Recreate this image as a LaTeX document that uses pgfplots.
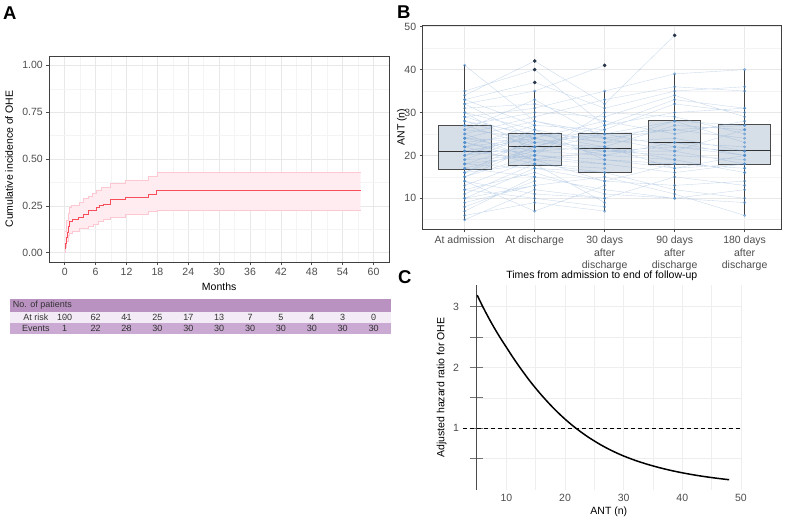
\documentclass[border=0pt]{standalone}
\usepackage{fontspec}
\setmainfont{Liberation Sans}
\usepackage{pgfplots}
\pgfplotsset{compat=1.18}
\usepackage{pgfplotstable}

\definecolor{kmred}{RGB}{248,78,90}
\definecolor{ciedge}{RGB}{253,200,210}
\definecolor{cifill}{RGB}{254,236,241}
\definecolor{hdr}{RGB}{186,146,194}
\definecolor{riskrow}{RGB}{243,236,246}
\definecolor{evrow}{RGB}{202,170,210}
\definecolor{boxfill}{RGB}{214,222,232}
\definecolor{boxline}{RGB}{75,75,75}
\definecolor{ptblue}{RGB}{74,140,205}
\definecolor{lnblue}{RGB}{125,165,210}
\definecolor{outl}{RGB}{42,54,72}
\definecolor{gridmaj}{RGB}{232,232,232}
\definecolor{gridmin}{RGB}{244,244,244}
\definecolor{ticktxt}{RGB}{77,77,77}

\newcommand{\txt}{\fontsize{10.5}{12.7}\selectfont}
\newcommand{\tbl}{\fontsize{9}{10}\selectfont}

% ANT per patient over follow-up (x = time point, rows of nan separate patients)
\pgfplotstableread{
t v
1 5
2 12
3 10
nan nan
1 6
2 9
3 7
nan nan
1 7
2 15
3 12
4 10
5 9
nan nan
1 8
2 14
nan nan
1 9
2 13
3 15
4 11
5 6
nan nan
1 10
2 17
3 14
4 13
5 14
nan nan
1 11
2 18
3 16
nan nan
1 12
2 16
3 11
4 10
5 12
nan nan
1 13
2 19
3 18
4 16
5 18
nan nan
1 14
2 7
3 13
nan nan
1 15
2 20
3 19
4 18
5 17
nan nan
1 15
2 22
3 21
4 22
5 20
nan nan
1 16
2 18
3 9
nan nan
1 16
2 24
3 20
4 19
5 16
nan nan
1 17
2 21
3 25
4 28
5 23
nan nan
1 17
2 15
nan nan
1 18
2 23
3 22
4 17
5 18
nan nan
1 18
2 17
3 16
4 12
5 10
nan nan
1 19
2 25
3 24
4 26
5 27
nan nan
1 19
2 20
3 18
nan nan
1 20
2 22
3 27
4 30
5 31
nan nan
1 20
2 26
3 23
4 24
5 21
nan nan
1 21
2 19
3 21
4 20
5 19
nan nan
1 21
2 24
3 28
4 25
5 28
nan nan
1 21
2 21
3 20
4 23
5 22
nan nan
1 22
2 27
3 26
4 32
5 30
nan nan
1 22
2 18
3 17
nan nan
1 23
2 25
3 22
4 27
5 26
nan nan
1 23
2 20
3 30
4 29
5 25
nan nan
1 24
2 28
3 24
nan nan
1 24
2 23
3 25
4 22
5 21
nan nan
1 25
2 29
3 33
4 36
5 35
nan nan
1 25
2 19
3 14
4 18
5 17
nan nan
1 26
2 24
3 21
4 21
5 18
nan nan
1 27
2 30
3 29
4 34
5 29
nan nan
1 27
2 22
3 26
nan nan
1 28
2 25
3 23
4 28
5 27
nan nan
1 29
2 31
3 35
4 39
5 40
nan nan
1 30
2 26
3 19
4 17
5 20
nan nan
1 30
2 21
3 22
4 19
5 16
nan nan
1 31
2 32
3 28
nan nan
1 32
2 35
3 41
nan nan
1 32
2 24
3 20
4 23
5 20
nan nan
1 33
2 37
3 31
4 35
5 36
nan nan
1 34
2 42
3 32
4 48
nan nan
1 35
2 40
3 27
4 33
5 31
nan nan
1 41
2 28
3 25
4 26
5 24
nan nan
1 14
2 11
3 10
4 15
5 13
nan nan
1 12
2 10
3 8
nan nan
1 26
2 33
3 24
4 21
5 26
nan nan
1 18
2 20
nan nan
1 22
2 24
nan nan
1 28
2 23
nan nan
1 33
2 27
nan nan
1 10
2 13
nan nan
1 24
2 21
nan nan
1 20
2 25
nan nan
1 16
2 22
nan nan
1 29
2 24
nan nan
1 23
2 19
}\patients

% whiskers (lower whisker to upper whisker) per time point
\pgfplotstableread{
x y
1 5
1 41
nan nan
2 7
2 35
nan nan
3 7
3 35
nan nan
4 10
4 39
nan nan
5 6
5 40
}\whisk

% medians per time point
\pgfplotstableread{
x y
0.625 21
1.375 21
nan nan
1.625 22.2
2.375 22.2
nan nan
2.625 21.6
3.375 21.6
nan nan
3.625 23
4.375 23
nan nan
4.625 21.1
5.375 21.1
}\medians

% numbers at risk / events under the incidence curve
\pgfplotstableread{
m risk ev
0 100 1
6 62 22
12 41 28
18 25 30
24 17 30
30 13 30
36 7 30
42 5 30
48 4 30
54 3 30
60 0 30
}\risktab

\pgfplotsset{
  ggbase/.style={
    scale only axis, anchor=south west,
    axis line style={draw=black!75, line width=0.9pt},
    tick style={draw=black!70, line width=0.6pt},
    tick align=outside, major tick length=3pt, minor tick length=0pt,
    tick pos=left,
    grid=both,
    major grid style={draw=gridmaj, line width=0.6pt},
    minor grid style={draw=gridmin, line width=0.5pt},
    ticklabel style={font=\txt, text=ticktxt},
    label style={font=\txt, text=black},
    /pgf/number format/assume math mode=true,
  },
  boxst/.style={draw=boxline, fill=boxfill, line width=0.8pt},
}

\begin{document}
\begin{tikzpicture}[x=1pt,y=1pt]
\path[use as bounding box] (0,0) rectangle (787,523);
% lower-left corners of the plotting areas
\coordinate (posA) at (49.3,261);
\coordinate (posT) at (49.3,189);
\coordinate (posB) at (422.7,293.7);
\coordinate (posC) at (476,33);

% panel letters
\node[anchor=north west, inner sep=0pt, font=\fontsize{18.5}{19}\selectfont\bfseries] at (3,516) {A};
\node[anchor=north west, inner sep=0pt, font=\fontsize{18.5}{19}\selectfont\bfseries] at (397,517) {B};
\node[anchor=north west, inner sep=0pt, font=\fontsize{18.5}{19}\selectfont\bfseries] at (398,253) {C};

% ---------- A: cumulative incidence ----------
\begin{axis}[ggbase,
  at={(posA)}, width=339.7pt, height=206pt,
  xmin=-3, xmax=63, ymin=-0.05, ymax=1.05,
  xtick={0,6,...,60}, minor xtick={3,9,...,57},
  ytick={0,0.25,0.5,0.75,1}, minor ytick={0.125,0.375,0.625,0.875},
  yticklabels={0.00,0.25,0.50,0.75,1.00},
  xlabel={Months}, ylabel={Cumulative incidence of OHE},
  xlabel style={at={(axis description cs:0.5,-0.121)}, anchor=center},
  ylabel style={at={(axis description cs:-0.1186,0.5)}, anchor=center},
]
% 95% confidence band (upper limit forward, lower limit back)
\addplot[fill=cifill, draw=none] coordinates {
 (0,0.115)(0.4,0.115)(0.4,0.17)(0.65,0.17)(0.65,0.21)(0.9,0.21)(0.9,0.24)(1.3,0.24)
 (1.3,0.255)(2.9,0.255)(2.9,0.27)(3.6,0.27)(3.6,0.29)(4.5,0.29)(4.5,0.30)(5.3,0.30)
 (5.3,0.315)(6.2,0.315)(6.2,0.335)(7.1,0.335)(7.1,0.35)(8.8,0.35)(8.8,0.37)(11.7,0.37)
 (11.7,0.388)(16.2,0.388)(16.2,0.408)(17.9,0.408)(17.9,0.43)(57.5,0.43)
 (57.5,0.228)(17.9,0.228)(17.9,0.22)(16.2,0.22)(16.2,0.207)(11.7,0.207)(11.7,0.19)
 (8.8,0.19)(8.8,0.178)(7.5,0.178)(7.5,0.165)(6.6,0.165)(6.6,0.15)(5.5,0.15)(5.5,0.14)
 (4.5,0.14)(4.5,0.128)(2.9,0.128)(2.9,0.115)(1.4,0.115)(1.4,0.105)(0.9,0.105)(0.9,0.09)
 (0.65,0.09)(0.65,0.06)(0.4,0.06)(0.4,0.03)(0.2,0.03)(0.2,0.0)(0,0.0)} -- cycle;
\addplot[const plot, draw=ciedge, line width=0.7pt] coordinates {
 (0,0.115)(0.4,0.17)(0.65,0.21)(0.9,0.24)(1.3,0.255)(2.9,0.27)(3.6,0.29)(4.5,0.30)
 (5.3,0.315)(6.2,0.335)(7.1,0.35)(8.8,0.37)(11.7,0.388)(16.2,0.408)(17.9,0.43)(57.5,0.43)};
\addplot[const plot, draw=ciedge, line width=0.7pt] coordinates {
 (0,0.0)(0.2,0.03)(0.4,0.06)(0.65,0.09)(0.9,0.105)(1.4,0.115)(2.9,0.128)(4.5,0.14)
 (5.5,0.15)(6.6,0.165)(7.5,0.178)(8.8,0.19)(11.7,0.207)(16.2,0.22)(17.9,0.228)(57.5,0.228)};
\addplot[const plot, draw=kmred, line width=0.8pt] coordinates {
 (0,0.02)(0.15,0.05)(0.4,0.08)(0.6,0.11)(0.8,0.14)(1.0,0.165)(1.5,0.178)(2.6,0.19)
 (3.6,0.205)(4.5,0.225)(6.2,0.24)(6.8,0.25)(7.5,0.26)(8.8,0.283)(11.7,0.293)(16.2,0.31)
 (17.9,0.33)(57.5,0.33)};
\end{axis}

% ---------- A: risk table ----------
\begin{axis}[scale only axis, anchor=south west, hide axis, clip=false,
  at={(posT)}, width=339.7pt, height=35pt,
  xmin=-3, xmax=63, ymin=0, ymax=35]
\fill[evrow] (axis cs:-10.65,0) rectangle (axis cs:63.3,11);
\fill[riskrow] (axis cs:-10.65,11) rectangle (axis cs:63.3,22);
\fill[hdr] (axis cs:-10.65,22) rectangle (axis cs:63.3,35);
\node[anchor=west, font=\tbl, text=black!80, inner sep=0pt] at (axis cs:-10.1,28.5) {No. of patients};
\node[anchor=center, font=\tbl, text=black!80, inner sep=0pt] at (axis cs:-5.6,16.5) {At risk};
\node[anchor=center, font=\tbl, text=black!80, inner sep=0pt] at (axis cs:-5.6,5.5) {Events};
\addplot[only marks, mark=*, mark size=0.01pt, mark options={draw=none,fill=none},
  nodes near coords, point meta=explicit symbolic,
  every node near coord/.style={anchor=center, font=\tbl, text=black!80, inner sep=0pt}]
  table[x=m, y expr=16.5, meta=risk] \risktab;
\addplot[only marks, mark=*, mark size=0.01pt, mark options={draw=none,fill=none},
  nodes near coords, point meta=explicit symbolic,
  every node near coord/.style={anchor=center, font=\tbl, text=black!80, inner sep=0pt}]
  table[x=m, y expr=5.5, meta=ev] \risktab;
\end{axis}

% ---------- B: ANT over follow-up ----------
\begin{axis}[ggbase,
  at={(posB)}, width=358.3pt, height=204.3pt,
  xmin=0.4, xmax=5.52, ymin=2.77, ymax=50.4,
  xtick={1,2,3,4,5},
  xticklabels={At admission, At discharge, {30 days\\after\\discharge}, {90 days\\after\\discharge}, {180 days\\after\\discharge}},
  xticklabel style={align=center},
  ytick={10,20,...,50}, minor ytick={5,15,...,45},
  xlabel={Times from admission to end of follow-up}, ylabel={ANT (n)},
  xlabel style={at={(axis description cs:0.5,-0.2286)}, anchor=center},
  ylabel style={at={(axis description cs:-0.0578,0.5)}, anchor=center},
]
% whiskers, then boxes (quartiles) and medians
\addplot[draw=black!75, line width=0.9pt, unbounded coords=jump] table[x=x, y=y] \whisk;
\addplot[boxst] coordinates {(0.625,16.75)(1.375,16.75)(1.375,27)(0.625,27)} -- cycle;
\addplot[boxst] coordinates {(1.625,17.6)(2.375,17.6)(2.375,25.1)(1.625,25.1)} -- cycle;
\addplot[boxst] coordinates {(2.625,16.05)(3.375,16.05)(3.375,25.1)(2.625,25.1)} -- cycle;
\addplot[boxst] coordinates {(3.625,17.9)(4.375,17.9)(4.375,28.1)(3.625,28.1)} -- cycle;
\addplot[boxst] coordinates {(4.625,17.9)(5.375,17.9)(5.375,27.3)(4.625,27.3)} -- cycle;
\addplot[draw=black!80, line width=0.9pt, unbounded coords=jump] table[x=x, y=y] \medians;
% patient trajectories
\addplot[draw=lnblue, line width=0.4pt, opacity=0.4, unbounded coords=jump, mark=none]
  table[x=t, y=v] \patients;
\addplot[only marks, mark=*, mark size=1.3pt, color=ptblue, opacity=0.5]
  table[x=t, y=v] \patients;
% outliers
\addplot[only marks, mark=*, mark size=1.6pt, color=outl]
  coordinates {(2,37)(2,40)(2,42)(3,41)(4,48)};
\end{axis}

% ---------- C: adjusted hazard ratio ----------
\begin{axis}[ggbase,
  at={(posC)}, width=265.7pt, height=205pt,
  xmin=4.8, xmax=50.14, ymin=-0.015, ymax=3.357,
  axis lines=left, axis line style={-},
  y axis line style={draw=black!70, line width=0.9pt},
  x axis line style={draw=none}, xtick style={draw=none},
  ytick style={draw=black!55, line width=0.8pt},
  major tick length=13pt,
  xtick={10,15,...,50}, xticklabels={10,,20,,30,,40,,50},
  xticklabel style={yshift=6pt},
  yticklabel style={xshift=-7pt},
  ytick={0.5,1,...,3}, yticklabels={,1,,2,,3},
  minor xtick={}, minor ytick={},
  grid=major, major grid style={draw=gridmin!50!gridmaj, line width=0.6pt},
  xlabel={ANT (n)}, ylabel={Adjusted hazard ratio for OHE},
  xlabel style={at={(axis description cs:0.5,-0.106)}, anchor=center},
  ylabel style={at={(axis description cs:-0.129,0.5)}, anchor=center},
  clip=false,
]
\addplot[black, line width=0.8pt, dash pattern=on 4pt off 3pt] coordinates {(2.58,1)(49.8,1)};
\addplot[black, line width=1.5pt, smooth] coordinates {
 (5,3.190)(6,2.992)(7,2.809)(8,2.638)(9,2.479)(10,2.330)(11,2.181)(12,2.040)
 (13,1.906)(14,1.777)(15,1.657)(16,1.543)(17,1.436)(18,1.334)(19,1.239)(20,1.150)
 (21,1.067)(22,0.990)(23,0.919)(24,0.852)(25,0.791)(26,0.733)(27,0.680)(28,0.631)
 (29,0.586)(30,0.544)(32,0.471)(34,0.409)(36,0.355)(38,0.308)(40,0.268)(42,0.233)
 (44,0.203)(46,0.177)(48,0.154)};
\end{axis}
\end{tikzpicture}
\end{document}
